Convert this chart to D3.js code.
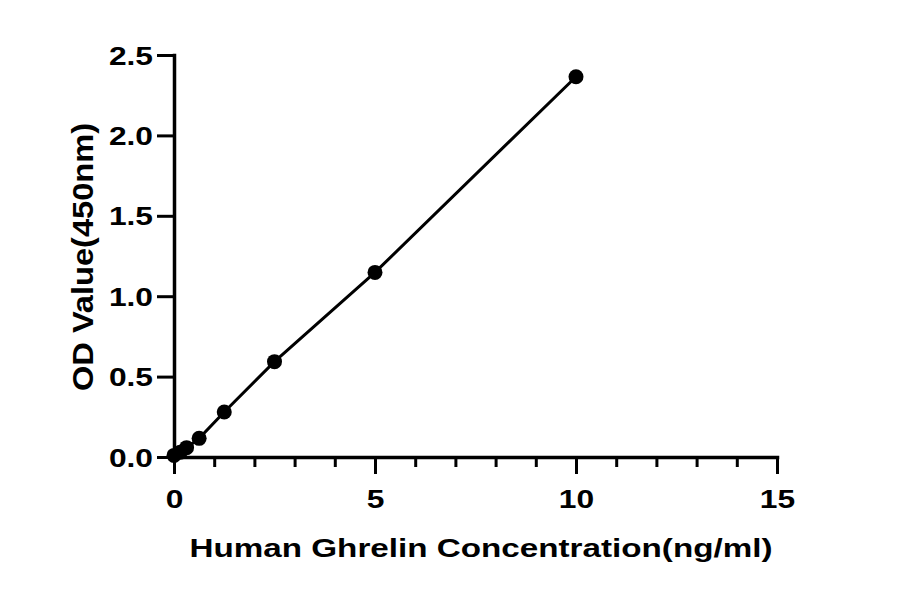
<!DOCTYPE html>
<html>
<head>
<meta charset="utf-8">
<script src="https://cdn.jsdelivr.net/npm/d3@7"></script>
<style>
  body { margin: 0; background: #fff; }
  text { font-family: "Liberation Sans", Arial, sans-serif; font-weight: bold; fill: #000; }
</style>
</head>
<body>
<svg id="chart" width="900" height="594"></svg>
<script>
// standard curve: concentration (ng/ml) vs OD at 450nm
const concentrations = [0, 0.156, 0.3125, 0.625, 1.25, 2.5, 5, 10];
const odValues = [0.010, 0.030, 0.058, 0.116, 0.280, 0.593, 1.148, 2.365];
const xMajorTicks = [0, 5, 10, 15];
const xMinorTicks = [1, 2, 3, 4, 6, 7, 8, 9, 11, 12, 13, 14];
const yTicks = [0, 0.5, 1.0, 1.5, 2.0, 2.5];
const xTitle = 'Human Ghrelin Concentration(ng/ml)';
const yTitle = 'OD Value(450nm)';

const svg = d3.select('#chart');
const sx = 1.27; // the reference text is drawn wide

let x = d3.scaleLinear().domain([0, 15]).range([174, 777]);
let y = d3.scaleLinear().domain([0, 2.5]).range([457, 55]);

function styleAxis (g) {
  g.selectAll('line')
    .attr('stroke', '#000')
    .attr('stroke-width', 3);
  g.select('.domain')
    .attr('stroke', '#000')
    .attr('stroke-width', 3.5)
    .attr('stroke-linecap', 'square');
}

// x axis, major then minor ticks
let xAxis = svg.append('g')
  .attr('transform', 'translate(0,' + y(0) + ')')
  .call(d3.axisBottom(x).tickValues(xMajorTicks).tickSize(17).tickSizeOuter(0));
xAxis.selectAll('text')
  .attr('font-size', 25)
  .attr('y', 51)
  .attr('dy', 0)
  .attr('transform', 'scale(' + sx + ',1)');
styleAxis(xAxis);

let xMinor = svg.append('g')
  .attr('transform', 'translate(0,' + y(0) + ')')
  .call(d3.axisBottom(x).tickValues(xMinorTicks).tickSize(10).tickFormat(''));
xMinor.select('.domain').remove();
styleAxis(xMinor);

// y axis
let yAxis = svg.append('g')
  .attr('transform', 'translate(' + x(0) + ',0)')
  .call(d3.axisLeft(y).tickValues(yTicks).tickSize(17).tickSizeOuter(0)
    .tickFormat(d3.format('.1f')));
yAxis.selectAll('text')
  .attr('font-size', 25)
  .attr('x', -21 / sx)
  .attr('dy', '0.36em')
  .attr('transform', 'scale(' + sx + ',1)');
styleAxis(yAxis);

// titles
svg.append('text')
  .attr('x', 481)
  .attr('y', 557)
  .attr('text-anchor', 'middle')
  .attr('font-size', 26)
  .attr('textLength', 583)
  .attr('lengthAdjust', 'spacingAndGlyphs')
  .text(xTitle);

svg.append('text')
  .attr('transform', 'translate(93,257) rotate(-90)')
  .attr('text-anchor', 'middle')
  .attr('font-size', 29)
  .attr('textLength', 268)
  .attr('lengthAdjust', 'spacingAndGlyphs')
  .text(yTitle);

// data line and points
const points = concentrations.map((c, i) => ({ c: c, od: odValues[i] }));

svg.append('path')
  .datum(points)
  .attr('fill', 'none')
  .attr('stroke', '#000')
  .attr('stroke-width', 3)
  .attr('d', d3.line().x(d => x(d.c)).y(d => y(d.od)));

svg.append('g').selectAll('circle')
  .data(points)
  .enter().append('circle')
  .attr('cx', d => x(d.c))
  .attr('cy', d => y(d.od))
  .attr('r', 7.5)
  .attr('fill', '#000');
</script>
</body>
</html>
